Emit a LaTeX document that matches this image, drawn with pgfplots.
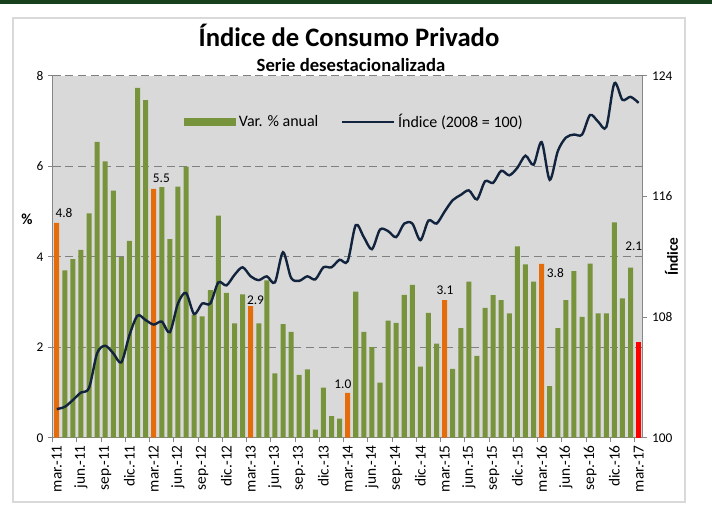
\documentclass[border=0pt]{standalone}
\usepackage{pgfplots}
\pgfplotsset{compat=1.18}
\usepackage{pgfplotstable}
\usepackage{fontspec}
\setmainfont{Carlito}
\definecolor{barg}{HTML}{77933C}
\definecolor{baro}{HTML}{E46C0A}
\definecolor{barr}{HTML}{FF0000}
\definecolor{linec}{HTML}{12233D}
\definecolor{bgg}{HTML}{D9D9D9}
\definecolor{axg}{HTML}{868686}
\definecolor{gridg}{HTML}{808080}
\definecolor{frameg}{HTML}{D9D9D9}
\definecolor{topg}{HTML}{163F1C}

\pgfplotstableread{
x v
1 3.70
2 3.95
3 4.15
4 4.96
5 6.54
6 6.11
7 5.46
8 3.99
9 4.35
10 7.73
11 7.46
13 5.54
14 4.39
15 5.55
16 5.99
17 2.72
18 2.68
19 3.26
20 4.91
21 3.20
22 2.53
23 3.17
25 2.53
26 3.48
27 1.42
28 2.51
29 2.34
30 1.39
31 1.51
32 0.18
33 1.11
34 0.48
35 0.42
37 3.23
38 2.34
39 2.00
40 1.22
41 2.59
42 2.54
43 3.16
44 3.38
45 1.57
46 2.76
47 2.08
49 1.52
50 2.42
51 3.45
52 1.81
53 2.87
54 3.15
55 3.04
56 2.75
57 4.23
58 3.83
59 3.45
61 1.14
62 2.42
63 3.04
64 3.68
65 2.67
66 3.85
67 2.75
68 2.75
69 4.76
70 3.08
71 3.76
}\greenbars

\pgfplotstableread{
x v
0 4.75
12 5.50
24 2.91
36 0.99
48 3.04
60 3.84
}\orangebars

\pgfplotstableread{
x v
72 2.11
}\redbars

\pgfplotstableread{
x v
0 101.9
1 102.05
2 102.5
3 103.0
4 103.3
5 105.6
6 106.1
7 105.6
8 105.0
9 106.8
10 108.1
11 107.8
12 107.5
13 107.7
14 107.0
15 108.9
16 109.6
17 108.2
18 108.9
19 108.9
20 110.3
21 110.1
22 110.8
23 111.3
24 110.7
25 110.45
26 110.7
27 110.3
28 112.3
29 110.6
30 110.4
31 110.7
32 110.5
33 111.3
34 111.3
35 111.8
36 111.7
37 114.1
38 113.3
39 112.5
40 113.8
41 113.7
42 113.3
43 114.2
44 114.2
45 113.1
46 114.4
47 114.2
48 115.0
49 115.75
50 116.1
51 116.4
52 115.8
53 117.0
54 116.9
55 117.7
56 117.4
57 117.9
58 118.7
59 118.1
60 119.6
61 117.1
62 119.0
63 119.9
64 120.1
65 120.1
66 121.4
67 120.95
68 120.6
69 123.5
70 122.4
71 122.6
72 122.2
}\indice

\begin{document}
\begin{tikzpicture}
\useasboundingbox (0,0) rectangle (534pt,384pt);
\fill[topg] (0,381pt) rectangle (534pt,384pt);
\draw[frameg, line width=1.5pt] (10pt,7.5pt) rectangle (513.75pt,370.7pt);
\node[anchor=base, font=\bfseries\fontsize{20}{23}\selectfont] at (261.75pt,349pt) {Índice de Consumo Privado};
\node[anchor=base, font=\bfseries\fontsize{14}{16}\selectfont] at (263.25pt,330.2pt) {Serie desestacionalizada};

\begin{axis}[
  at={(39.5pt,55.7pt)}, anchor=south west,
  scale only axis, width=442.5pt, height=271.5pt,
  xmin=-0.5, xmax=72.5, ymin=0, ymax=8,
  axis x line*=bottom, axis y line*=left,
  axis line style={-, draw=axg, line width=0.8pt},
  axis background/.style={fill=bgg},
  ymajorgrids, grid style={dashed, gridg, line width=0.9pt, dash pattern=on 6pt off 3.5pt},
  ytick={0,2,4,6,8},
  xtick={0,3,...,72},
  xticklabels={mar.-11,jun.-11,sep.-11,dic.-11,mar.-12,jun.-12,sep.-12,dic.-12,mar.-13,jun.-13,sep.-13,dic.-13,mar.-14,jun.-14,sep.-14,dic.-14,mar.-15,jun.-15,sep.-15,dic.-15,mar.-16,jun.-16,sep.-16,dic.-16,mar.-17},
  major x tick style={draw=none},
  minor xtick={-0.5,2.5,...,71.5},
  minor x tick style={draw=axg, line width=0.8pt},
  minor tick length=3.5pt,
  major y tick style={draw=axg, line width=0.8pt},
  major tick length=3.5pt,
  tick align=outside,
  yticklabel style={font=\fontsize{10}{12}\selectfont},
  xticklabel style={rotate=90, anchor=east, inner sep=2pt, font=\fontsize{11.5}{13}\selectfont},
  /pgf/number format/assume math mode=true,
  bar width=0.62,
  legend style={at={(axis description cs:0.2225,0.873)}, anchor=west, draw=none, fill=none,
    font=\fontsize{12}{14}\selectfont, inner sep=0pt},
  legend columns=2,
  /tikz/every even column/.append style={column sep=15pt},
  clip=false,
]
\addplot[ybar, bar shift=0pt, fill=barg, draw=none,
  legend image code/.code={\fill[barg] (0pt,-3.1pt) rectangle (39pt,3.1pt);}]
  table[x=x,y=v] {\greenbars};
\addlegendentry{Var. \% anual}
\addplot[ybar, bar shift=0pt, fill=baro, draw=none, forget plot] table[x=x,y=v] {\orangebars};
\addplot[ybar, bar shift=0pt, fill=barr, draw=none, forget plot] table[x=x,y=v] {\redbars};
\addlegendimage{legend image code/.code={\draw[linec, line width=1.8pt] (0pt,0pt) -- (39pt,0pt);}}
\addlegendentry{Índice (2008 = 100)}
\begin{scope}[every node/.style={font=\fontsize{10}{12}\selectfont}]
\node at (axis cs:0.9,4.96) {4.8};
\node at (axis cs:12.95,5.73) {5.5};
\node at (axis cs:24.6,3.05) {2.9};
\node at (axis cs:35.4,1.19) {1.0};
\node at (axis cs:48.05,3.25) {3.1};
\node at (axis cs:61.7,3.63) {3.8};
\node at (axis cs:71.4,4.24) {2.1};
\end{scope}
\node[font=\bfseries\fontsize{11.5}{13}\selectfont] at (axis description cs:-0.0436,0.604) {\%};
\end{axis}

\begin{axis}[
  at={(39.5pt,55.7pt)}, anchor=south west,
  scale only axis, width=442.5pt, height=271.5pt,
  xmin=-0.5, xmax=72.5, ymin=100, ymax=124,
  axis x line=none, axis y line*=right,
  axis line style={-, draw=axg, line width=0.8pt},
  ytick={100,108,116,124},
  major y tick style={draw=axg, line width=0.8pt},
  major tick length=3.5pt,
  tick align=outside,
  ticklabel style={font=\fontsize{10}{12}\selectfont},
  /pgf/number format/assume math mode=true,
  clip=false,
]
\addplot[linec, line width=1.8pt, smooth, tension=0.5, mark=none] table[x=x,y=v] {\indice};
\node[rotate=90, font=\bfseries\fontsize{11.5}{13}\selectfont] at (axis description cs:1.049,0.5) {Índice};
\end{axis}
\end{tikzpicture}
\end{document}
